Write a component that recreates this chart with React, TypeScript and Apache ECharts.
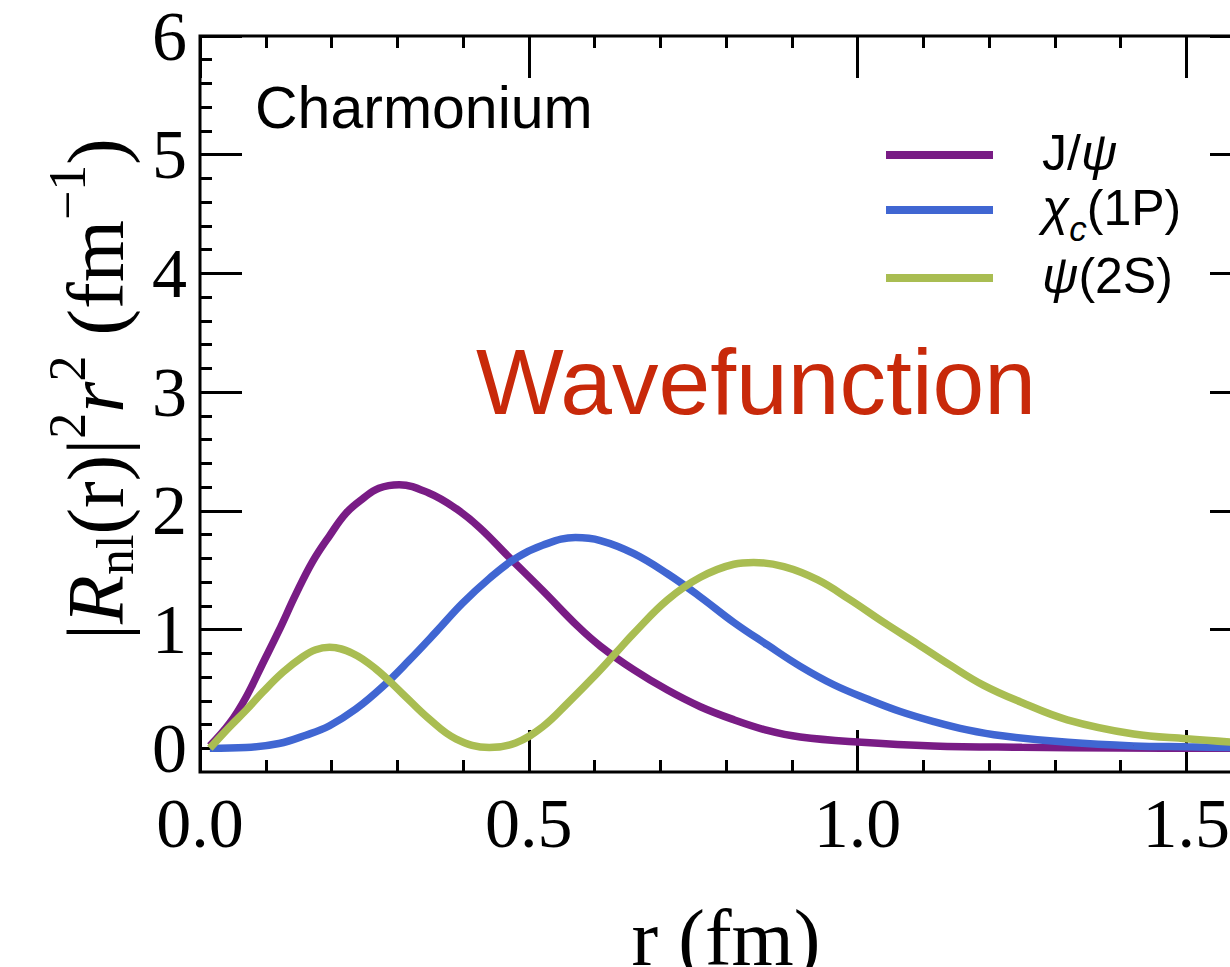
import React, { useEffect, useRef } from "react";
import * as echarts from "echarts";

// ---- data ----
const seriesNames = ["J/ψ", "χc(1P)", "ψ(2S)"];
const seriesColors = ["#791C85", "#4066D2", "#A9BD52"];

const rJpsi = [0.015, 0.045, 0.07, 0.095, 0.12, 0.146, 0.171, 0.197, 0.222, 0.247, 0.272, 0.303, 0.348, 0.389, 0.425, 0.47, 0.521, 0.576, 0.609, 0.66, 0.711, 0.761, 0.812, 0.863, 0.913, 1.0, 1.115, 1.25, 1.4, 1.6];
const vJpsi = [0.02, 0.21, 0.43, 0.71, 0.99, 1.3, 1.57, 1.79, 1.98, 2.1, 2.19, 2.22, 2.15, 2.02, 1.86, 1.61, 1.33, 1.02, 0.86, 0.66, 0.49, 0.35, 0.24, 0.15, 0.095, 0.053, 0.02, 0.008, 0.002, 0.0];

const rChic = [0.015, 0.07, 0.12, 0.161, 0.197, 0.237, 0.278, 0.318, 0.359, 0.399, 0.44, 0.48, 0.521, 0.571, 0.609, 0.66, 0.711, 0.761, 0.812, 0.863, 0.913, 0.964, 1.015, 1.065, 1.116, 1.167, 1.22, 1.32, 1.42, 1.5, 1.6];
const vChic = [0.0, 0.006, 0.04, 0.11, 0.19, 0.33, 0.52, 0.74, 0.98, 1.22, 1.43, 1.6, 1.71, 1.775, 1.75, 1.64, 1.47, 1.275, 1.06, 0.87, 0.69, 0.535, 0.415, 0.31, 0.225, 0.155, 0.105, 0.05, 0.02, 0.012, 0.004];

const rPsi2S = [0.015, 0.045, 0.07, 0.095, 0.126, 0.156, 0.176, 0.197, 0.232, 0.267, 0.308, 0.348, 0.389, 0.44, 0.48, 0.521, 0.561, 0.602, 0.632, 0.66, 0.711, 0.761, 0.812, 0.842, 0.888, 0.939, 0.989, 1.04, 1.091, 1.141, 1.192, 1.248, 1.319, 1.42, 1.5, 1.6];
const vPsi2S = [0.0, 0.18, 0.32, 0.47, 0.64, 0.77, 0.83, 0.85, 0.8, 0.67, 0.46, 0.25, 0.08, 0.006, 0.045, 0.18, 0.39, 0.62, 0.8, 0.97, 1.25, 1.44, 1.55, 1.565, 1.53, 1.42, 1.25, 1.06, 0.88, 0.7, 0.53, 0.39, 0.24, 0.12, 0.08, 0.04];

const xMajorTicks = [0, 0.5, 1.0, 1.5];
const xMinorTicks = [0.1, 0.2, 0.3, 0.4, 0.6, 0.7, 0.8, 0.9, 1.1, 1.2, 1.3, 1.4];
const yMajorTicks = [0, 1, 2, 3, 4, 5, 6];
const yMinorTicks = [0.2, 0.4, 0.6, 0.8, 1.2, 1.4, 1.6, 1.8, 2.2, 2.4, 2.6, 2.8, 3.2, 3.4, 3.6, 3.8, 4.2, 4.4, 4.6, 4.8, 5.2, 5.4, 5.6, 5.8];

const xMin = 0;
const xMax = 1.6;
const yMin = -0.2;
const yMax = 6;

const SERIF = '"Liberation Serif", "Times New Roman", serif';
const SANS = '"Liberation Sans", Arial, Helvetica, sans-serif';

function tickAxis(dim: "x" | "y", position: string, ticks: number[], length: number, extra: any = {}) {
  return {
    type: "value",
    position,
    min: dim === "x" ? xMin : yMin,
    max: dim === "x" ? xMax : yMax,
    axisLine: { show: false, onZero: false },
    splitLine: { show: false },
    axisTick: {
      show: true,
      inside: true,
      length,
      customValues: ticks,
      lineStyle: { color: "#000", width: 3 },
    },
    axisLabel: { show: false },
    ...extra,
  };
}

export default function App() {
  const ref = useRef<HTMLDivElement>(null);

  useEffect(() => {
    if (!ref.current) return;
    const chart = echarts.init(ref.current, null, { renderer: "svg" });

    const pairs = (r: number[], v: number[]) => r.map((x, i) => [x, v[i]]);
    const dataSets = [pairs(rJpsi, vJpsi), pairs(rChic, vChic), pairs(rPsi2S, vPsi2S)];

    const legendRich = {
      g: { width: 44 },
      t: { fontSize: 50, fontFamily: SANS, color: "#000", lineHeight: 54, verticalAlign: "top" },
      i: { fontSize: 50, fontFamily: SANS, fontStyle: "italic", color: "#000", lineHeight: 54, verticalAlign: "top" },
      s: { fontSize: 35, fontFamily: SANS, fontStyle: "italic", color: "#000", lineHeight: 26, padding: [28, 0, 0, 0], verticalAlign: "top" },
    };

    const nameRich = {
      m0: { fontSize: 80, fontFamily: SERIF, color: "#000", lineHeight: 80, padding: [16, 0, 0, 30], verticalAlign: "top" },
      m: { fontSize: 80, fontFamily: SERIF, color: "#000", lineHeight: 80, padding: [16, 0, 0, 0], verticalAlign: "top" },
      ri: { fontSize: 80, fontFamily: SERIF, fontStyle: "italic", color: "#000", lineHeight: 80, padding: [16, 0, 0, 0], verticalAlign: "top" },
      sub: { fontSize: 52, fontFamily: SERIF, color: "#000", lineHeight: 52, padding: [49, 0, 0, 0], verticalAlign: "top" },
      sup: { fontSize: 52, fontFamily: SERIF, color: "#000", lineHeight: 52, padding: [1, 0, 0, 0], verticalAlign: "top" },
    };

    const option: any = {
      animation: false,
      backgroundColor: "#fff",
      grid: {
        left: 200,
        top: 36,
        right: -22,
        bottom: 195,
        show: true,
        borderColor: "#000",
        borderWidth: 3,
        backgroundColor: "transparent",
        containLabel: false,
        outerBoundsMode: "none",
      },
      xAxis: [
        tickAxis("x", "bottom", xMajorTicks, 42, {
          axisLabel: {
            show: true,
            customValues: xMajorTicks,
            formatter: (v: number) => v.toFixed(1),
            fontSize: 70,
            fontFamily: SERIF,
            color: "#000",
            lineHeight: 70,
            margin: 16,
          },
          name: "r (fm)",
          nameLocation: "middle",
          nameGap: 126,
          nameTextStyle: { fontSize: 80, fontFamily: SERIF, color: "#000", lineHeight: 80 },
        }),
        tickAxis("x", "bottom", xMinorTicks, 12),
        tickAxis("x", "top", xMajorTicks, 42),
        tickAxis("x", "top", xMinorTicks, 12),
      ],
      yAxis: [
        tickAxis("y", "left", yMajorTicks, 42, {
          axisLabel: {
            show: true,
            customValues: yMajorTicks,
            formatter: (v: number) => String(v),
            fontSize: 70,
            fontFamily: SERIF,
            color: "#000",
            lineHeight: 50,
            margin: 13,
          },
          name: "{m0||}{ri|R}{sub|nl}{m|(r)|}{sup|2}{ri|r}{sup|2}{m| (fm}{sup|−1}{m|)}",
          nameLocation: "middle",
          nameGap: 78,
          nameTextStyle: { rich: nameRich },
        }),
        tickAxis("y", "left", yMinorTicks, 12),
        tickAxis("y", "right", yMajorTicks, 42),
        tickAxis("y", "right", yMinorTicks, 12),
      ],
      legend: {
        orient: "vertical",
        left: 886,
        top: 128,
        padding: 0,
        itemWidth: 107,
        itemHeight: 8,
        itemGap: 5,
        icon: "rect",
        selectedMode: false,
        data: seriesNames,
        textStyle: { rich: legendRich },
        formatter: (name: string) => {
          if (name === seriesNames[0]) return "{g|}{t|J/}{i|ψ}";
          if (name === seriesNames[1]) return "{g|}{i|χ}{s|c}{t|(1P)}";
          return "{g|}{i|ψ}{t|(2S)}";
        },
      },
      graphic: [
        {
          type: "text",
          x: 255,
          y: 108,
          style: { text: "Charmonium", font: `59px ${SANS}`, fill: "#000", align: "left", verticalAlign: "middle" },
        },
        {
          type: "text",
          x: 476,
          y: 382,
          style: { text: "Wavefunction", font: `93px ${SANS}`, fill: "#C8290A", align: "left", verticalAlign: "middle" },
        },
      ],
      series: seriesNames.map((name, i) => ({
        name,
        type: "line",
        xAxisIndex: 0,
        yAxisIndex: 0,
        data: dataSets[i],
        smooth: 0.4,
        showSymbol: false,
        symbol: "none",
        color: seriesColors[i],
        lineStyle: { color: seriesColors[i], width: 7.5 },
        z: 2 + i,
      })),
    };

    chart.setOption(option);
    return () => chart.dispose();
  }, []);

  return (
    <div
      ref={ref}
      style={{ position: "fixed", left: 0, top: 0, width: 1230, height: 967, background: "#fff" }}
    />
  );
}
